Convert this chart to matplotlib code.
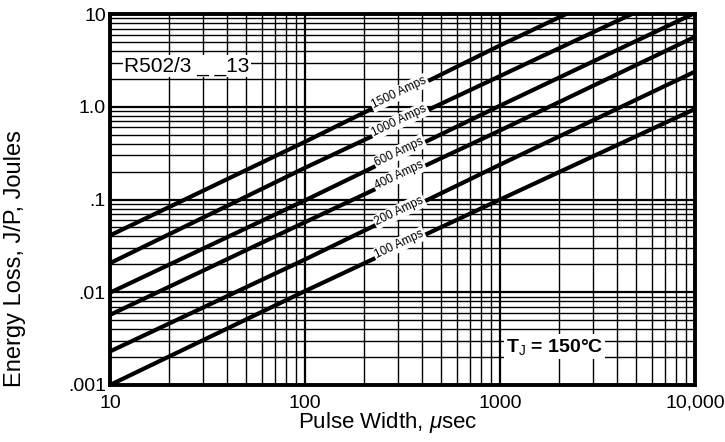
import numpy as np
import matplotlib
matplotlib.use("Agg")
import matplotlib.pyplot as plt
from matplotlib.ticker import LogLocator, FixedLocator, NullFormatter

plt.rcParams['font.family'] = ['Liberation Sans', 'DejaVu Sans']
plt.rcParams['mathtext.fontset'] = 'custom'
plt.rcParams['mathtext.it'] = 'Liberation Sans:italic'
plt.rcParams['mathtext.rm'] = 'Liberation Sans'
plt.rcParams['mathtext.bf'] = 'Liberation Sans:bold'

# Data
pulse_width = [10, 100, 1000, 10000]            # microseconds
currents = ["1500 Amps", "1000 Amps", "600 Amps", "400 Amps", "200 Amps", "100 Amps"]
e_1500 = [0.041, 0.42, 4.6, 46]
e_1000 = [0.0206, 0.22, 2.15, 21]
e_600 = [0.0099, 0.098, 1.03, 10.3]
e_400 = [0.0057, 0.057, 0.556, 5.7]
e_200 = [0.0023, 0.0226, 0.238, 2.4]
e_100 = [0.001, 0.0103, 0.1, 0.95]
series = [e_1500, e_1000, e_600, e_400, e_200, e_100]

x_ticks = [10, 100, 1000, 10000]
x_tick_labels = ["10", "100", "1000", "10,000"]
y_ticks = [0.001, 0.01, 0.1, 1.0, 10]
y_tick_labels = [".001", ".01", ".1", "1.0", "10"]

fig = plt.figure(figsize=(7.25, 4.42), dpi=100)
ax = fig.add_axes([0.1517, 0.129, 0.807, 0.839])
ax.set_xscale('log')
ax.set_yscale('log')
ax.set_xlim(10, 10000)
ax.set_ylim(0.001, 10)

ax.xaxis.set_major_locator(FixedLocator(x_ticks))
ax.yaxis.set_major_locator(FixedLocator(y_ticks))
ax.xaxis.set_minor_locator(LogLocator(base=10, subs=np.arange(2, 10)))
ax.yaxis.set_minor_locator(LogLocator(base=10, subs=np.arange(2, 10)))
ax.xaxis.set_minor_formatter(NullFormatter())
ax.yaxis.set_minor_formatter(NullFormatter())
ax.set_xticklabels(x_tick_labels, fontsize=14)
ax.set_yticklabels(y_tick_labels, fontsize=14)
ax.tick_params(which='both', length=0)
ax.tick_params(axis='x', pad=7)
ax.tick_params(axis='y', pad=3)

ax.grid(which='major', color='black', lw=1.6)
ax.grid(which='minor', color='black', lw=1.0)
ax.set_axisbelow(True)
for s in ax.spines.values():
    s.set_linewidth(2.8)
    s.set_zorder(5)

for vals in series:
    ax.plot(pulse_width, vals, color='black', lw=3.0, solid_capstyle='butt', zorder=3)

ax.set_xlabel("Pulse Width, $\\mu$sec", fontsize=16)
ax.set_ylabel("Energy Loss, J/P, Joules", fontsize=17)
ax.xaxis.set_label_coords(0.474, -0.068)
ax.yaxis.set_label_coords(-0.143, 0.34)

fig.canvas.draw()
label_t = 305
for name, vals in zip(currents, series):
    ly = 10 ** np.interp(np.log10(label_t), np.log10(pulse_width), np.log10(vals))
    p1 = ax.transData.transform((pulse_width[0], vals[0]))
    p2 = ax.transData.transform((pulse_width[-1], vals[-1]))
    ang = np.degrees(np.arctan2(p2[1] - p1[1], p2[0] - p1[0]))
    ax.text(label_t, ly * 1.06, name, rotation=ang, rotation_mode='anchor',
            ha='center', va='center', fontsize=8.5, zorder=4,
            bbox=dict(facecolor='white', edgecolor='none', pad=1.0))

ax.text(11.8, 2.75, "R502/3 _ _13", fontsize=15, ha='left', va='center', zorder=4,
        bbox=dict(facecolor='white', edgecolor='none', pad=1.0))
ax.text(1900, 0.0026, "T$_{\\rm J}$ = 150°C", fontsize=14, fontweight='bold',
        ha='center', va='center', zorder=4,
        bbox=dict(facecolor='white', edgecolor='none', pad=1.5))

fig.savefig("out.png", dpi=100, facecolor='white')
